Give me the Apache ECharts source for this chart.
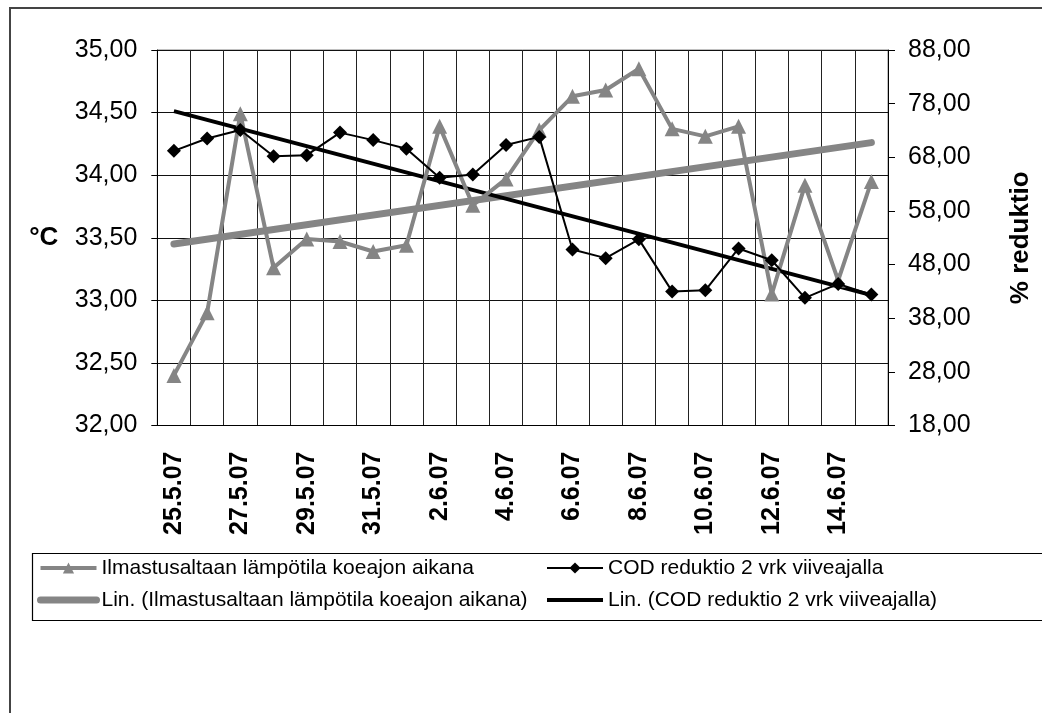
<!DOCTYPE html>
<html>
<head>
<meta charset="utf-8">
<script src="https://cdn.jsdelivr.net/npm/echarts@6/dist/echarts.min.js"></script>
<style>
  html, body { margin: 0; padding: 0; background: #fff; }
  #chart { width: 1042px; height: 713px; }
</style>
</head>
<body>
<div id="chart"></div>
<script>
// dates of the test run
const days = [
  '25.5.07', '26.5.07', '27.5.07', '28.5.07', '29.5.07', '30.5.07', '31.5.07',
  '1.6.07', '2.6.07', '3.6.07', '4.6.07', '5.6.07', '6.6.07', '7.6.07',
  '8.6.07', '9.6.07', '10.6.07', '11.6.07', '12.6.07', '13.6.07', '14.6.07', '15.6.07'
];

// aeration basin temperature, °C (left axis)
const temperature = [
  32.40, 32.90, 34.49, 33.26, 33.49, 33.47, 33.39, 33.44, 34.39, 33.76, 33.97,
  34.36, 34.63, 34.68, 34.85, 34.37, 34.31, 34.39, 33.05, 33.92, 33.16, 33.95
];

// COD reduction with 2 day delay, % (right axis)
const codReduction = [
  69.2, 71.5, 73.1, 68.2, 68.4, 72.6, 71.2, 69.6, 64.2, 64.8, 70.3,
  71.8, 50.8, 49.2, 52.7, 43.0, 43.2, 51.0, 48.8, 41.8, 44.4, 42.4
];

// linear trend lines, start and end values (first and last day)
const temperatureTrend = [33.45, 34.26];
const codTrend = [76.6, 42.3];

const names = [
  'Ilmastusaltaan lämpötila koeajon aikana',
  'COD reduktio 2 vrk viiveajalla',
  'Lin. (Ilmastusaltaan lämpötila koeajon aikana)',
  'Lin. (COD reduktio 2 vrk viiveajalla)'
];

const FONT = "'Liberation Sans', Arial, sans-serif";
const GRAY = '#858585';
const last = days.length - 1;

const comma = v => v.toFixed(2).replace('.', ',');

// trend lines have no marker, so hide the legend symbol
const plainItem = name => ({ name, itemStyle: { opacity: 0 } });

const legendBase = {
  orient: 'vertical',
  top: 557,
  padding: 0,
  itemWidth: 56,
  itemHeight: 14,
  itemGap: 10,
  lineStyle: { width: 'inherit' },
  textStyle: { fontSize: 21, color: '#000', lineHeight: 22, fontFamily: FONT }
};

const chart = echarts.init(document.getElementById('chart'));

chart.setOption({
  animation: false,
  backgroundColor: '#fff',
  textStyle: { fontFamily: FONT },
  grid: {
    left: 157.3,
    right: 152.7,
    top: 50,
    bottom: 287.5,
    show: true,
    borderColor: '#808080',
    borderWidth: 1
  },
  legend: [
    Object.assign({}, legendBase, { left: 37, data: [names[0], plainItem(names[2])] }),
    Object.assign({}, legendBase, { left: 545, data: [names[1], plainItem(names[3])] })
  ],
  xAxis: {
    type: 'category',
    data: days,
    boundaryGap: true,
    axisLine: { lineStyle: { color: '#000', width: 1 } },
    axisTick: { interval: 0, length: 6, lineStyle: { color: '#000' } },
    splitLine: { show: true, interval: 0, lineStyle: { color: '#222', width: 1 } },
    axisLabel: {
      interval: 1,
      rotate: 90,
      margin: 26,
      fontSize: 25,
      fontWeight: 'bold',
      color: '#000',
      fontFamily: FONT
    }
  },
  yAxis: [
    {
      type: 'value',
      min: 32,
      max: 35,
      interval: 0.5,
      name: '°C',
      nameLocation: 'middle',
      nameRotate: 0,
      nameGap: 99,
      nameTextStyle: { fontSize: 26, fontWeight: 'bold', color: '#000', fontFamily: FONT },
      axisLine: { show: true, lineStyle: { color: '#000', width: 1 } },
      axisTick: { show: true, length: 6, lineStyle: { color: '#000' } },
      splitLine: { show: true, lineStyle: { color: '#111', width: 1 } },
      axisLabel: { fontSize: 25, color: '#000', margin: 20, formatter: comma, fontFamily: FONT }
    },
    {
      type: 'value',
      min: 18,
      max: 88,
      interval: 10,
      position: 'right',
      name: '% reduktio',
      nameLocation: 'middle',
      nameRotate: 90,
      nameGap: 120,
      nameTextStyle: { fontSize: 26, fontWeight: 'bold', color: '#000', fontFamily: FONT },
      axisLine: { show: true, lineStyle: { color: '#000', width: 1 } },
      axisTick: { show: true, length: 7, lineStyle: { color: '#000' } },
      splitLine: { show: false },
      axisLabel: { fontSize: 25, color: '#000', margin: 20, formatter: comma, fontFamily: FONT }
    }
  ],
  series: [
    {
      name: names[2],
      type: 'line',
      yAxisIndex: 0,
      data: [[0, temperatureTrend[0]], [last, temperatureTrend[1]]],
      symbol: 'none',
      lineStyle: { color: GRAY, width: 7, cap: 'round' },
      itemStyle: { color: GRAY },
      z: 2
    },
    {
      name: names[3],
      type: 'line',
      yAxisIndex: 1,
      data: [[0, codTrend[0]], [last, codTrend[1]]],
      symbol: 'none',
      lineStyle: { color: '#000', width: 4 },
      itemStyle: { color: '#000' },
      z: 3
    },
    {
      name: names[0],
      type: 'line',
      yAxisIndex: 0,
      data: temperature,
      symbol: 'triangle',
      symbolSize: 15,
      lineStyle: { color: GRAY, width: 4 },
      itemStyle: { color: GRAY },
      z: 4
    },
    {
      name: names[1],
      type: 'line',
      yAxisIndex: 1,
      data: codReduction,
      symbol: 'diamond',
      symbolSize: 14,
      lineStyle: { color: '#000', width: 2 },
      itemStyle: { color: '#000' },
      z: 5
    }
  ],
  graphic: [
    {
      type: 'rect',
      silent: true,
      shape: { x: 10, y: 8, width: 1100, height: 800 },
      style: { fill: 'none', stroke: '#444', lineWidth: 2 }
    },
    {
      type: 'rect',
      silent: true,
      shape: { x: 32.5, y: 553.5, width: 1100, height: 67 },
      style: { fill: 'none', stroke: '#000', lineWidth: 1.2 }
    }
  ]
});
</script>
</body>
</html>
